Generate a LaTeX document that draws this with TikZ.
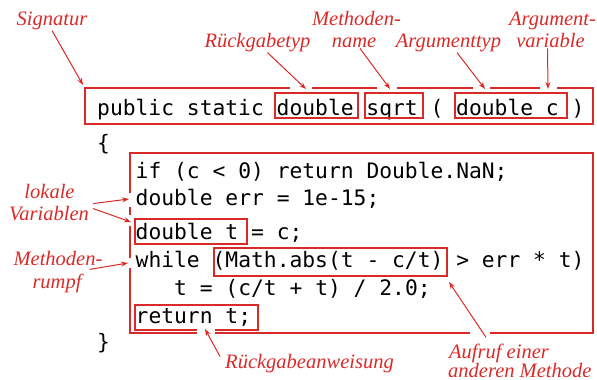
\documentclass[tikz,border=0pt]{standalone}
\usepackage{fontspec}
\setmainfont{Liberation Serif}
\newfontfamily\codefont{DejaVu Sans Mono}
\usetikzlibrary{arrows.meta}
\definecolor{annot}{RGB}{218,42,40}
\tikzset{
  code/.style={anchor=base west, inner sep=0pt, font=\codefont\fontsize{21.3}{29}\selectfont},
  lbl/.style={anchor=base, text=annot, inner sep=1pt, font=\itshape\fontsize{20.5}{23}\selectfont},
  codebox/.style={draw=annot, line width=1.2pt},
  notch/.style={draw=white, line width=3pt},
  ptr/.style={draw=annot, line width=1pt, -{Stealth[length=7pt,width=5pt]}},
}
\begin{document}
\begin{tikzpicture}[x=1pt,y=-1pt]
\useasboundingbox (0,0) rectangle (597,380);

\node[code] (sig) at (97,115) {public static double sqrt ( double c )};
\node[code] (open) at (97,150) {\{};
\node[code] (l1) at (135.5,178) {if (c < 0) return Double.NaN;};
\node[code] (l2) at (135.5,205) {double err = 1e-15;};
\node[code] (l3) at (135.5,239) {double t = c;};
\node[code] (l4) at (135.5,267) {while (Math.abs(t - c/t) > err * t)};
\node[code] (l5) at (174,295) {t = (c/t + t) / 2.0;};
\node[code] (l6) at (135.5,323) {return t;};
\node[code] (close) at (97,349) {\}};

\draw[codebox] (85,88) rectangle (593,124);
\draw[codebox] (275,93) rectangle (358,118);
\draw[codebox] (365,93) rectangle (423,118);
\draw[codebox] (455,93) rectangle (567,118);
\draw[codebox] (130,153) rectangle (593,333);
\draw[codebox] (135,219) rectangle (247,244);
\draw[codebox] (214,248) rectangle (447,276);
\draw[codebox] (135,305) rectangle (258,330);

\draw[notch] (290,88) -- (312,88) (377,88) -- (397,88)
  (473,88) -- (490,88) (540,88) -- (557,88);
\draw[notch] (130,193) -- (130,207) (130,215) -- (130,226) (130,258) -- (130,268);
\draw[notch] (470,333) -- (490,333);
\fill[white] (197,328.5) rectangle (215,334.5);

\node[lbl] (sigl) at (52,25) {Signatur};
\node[lbl] (rtyp) at (257.5,47) {Rückgabetyp};
\node[lbl] (mname1) at (356.5,25) {Methoden-};
\node[lbl] (mname2) at (354,47) {name};
\node[lbl] (atyp) at (448.5,47) {Argumenttyp};
\node[lbl] (avar1) at (552.5,25) {Argument-};
\node[lbl] (avar2) at (550.5,47) {variable};
\node[lbl] (lok1) at (49.5,198) {lokale};
\node[lbl] (lok2) at (49,220) {Variablen};
\node[lbl] (rumpf1) at (58,265) {Methoden-};
\node[lbl] (rumpf2) at (57,288) {rumpf};
\node[lbl] (rueck) at (309.5,368) {Rückgabeanweisung};
\node[lbl, anchor=base west] (aufr1) at (448,358) {Aufruf einer};
\node[lbl, anchor=base west] (aufr2) at (447,377) {anderen Methode};

\coordinate (sigt) at (83,85);
\coordinate (rtypt) at (306,89);
\coordinate (mnamet) at (390,89);
\coordinate (atypt) at (485,89);
\coordinate (avart) at (548,89);
\coordinate (errt) at (129,199);
\coordinate (tt) at (131,222);
\coordinate (rumpft) at (128,263);
\coordinate (ruecktt) at (205,329);
\coordinate (aufrt) at (449,282);

\draw[ptr] (sigl.south) -- (sigt);
\draw[ptr] ([xshift=10pt]rtyp.south) -- (rtypt);
\draw[ptr] ([xshift=6pt]mname2.south) -- (mnamet);
\draw[ptr] ([xshift=8.5pt]atyp.south) -- (atypt);
\draw[ptr] ([xshift=-3pt]avar2.south) -- (avart);
\draw[ptr] ([xshift=3pt,yshift=1pt]lok2.north east) -- (errt);
\draw[ptr] ([xshift=3pt,yshift=-4pt]lok2.north east) -- (tt);
\draw[ptr] ([xshift=-14pt,yshift=-3pt]rumpf1.south east) -- (rumpft);
\draw[ptr] ([xshift=-4pt,yshift=-4pt]rueck.north west) -- (ruecktt);
\draw[ptr] ([xshift=-13pt,yshift=5pt]aufr1.north) -- (aufrt);
\end{tikzpicture}
\end{document}
